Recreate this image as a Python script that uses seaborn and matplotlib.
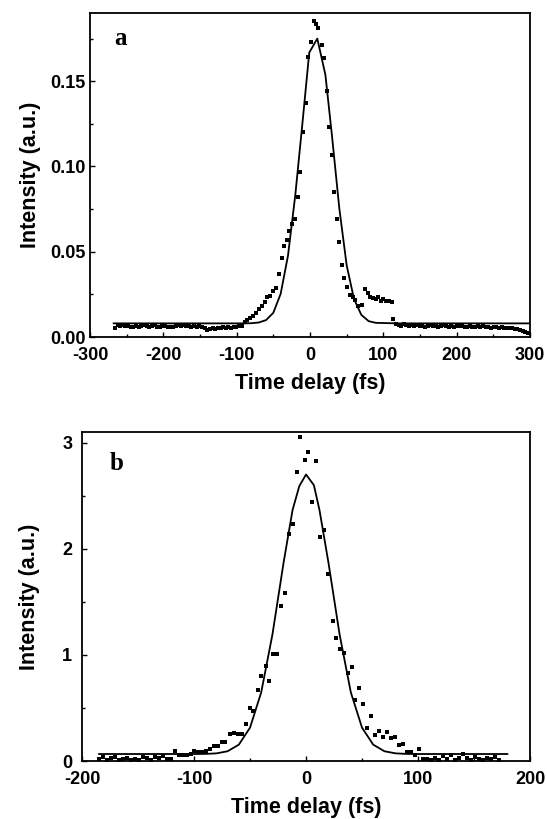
# pulse_autocorrelation.py
# Autocorrelation traces (a, b): measured points + fitted curve

import matplotlib
matplotlib.use("Agg")
import matplotlib.pyplot as plt
from matplotlib.ticker import MultipleLocator
import pandas as pd
import seaborn as sns

# -------------------------
# Data
# -------------------------
# panel a: measured points
a_time = [-266.0, -262.4, -258.8, -255.2, -251.6, -248.0, -244.4, -240.8, -237.2, -233.6,
          -230.0, -226.4, -222.8, -219.2, -215.6, -212.0, -208.4, -204.8, -201.2, -197.6,
          -194.0, -190.4, -186.8, -183.2, -179.6, -176.0, -172.4, -168.8, -165.2, -161.6,
          -158.0, -154.4, -150.8, -147.2, -143.6, -140.0, -136.4, -132.8, -129.2, -125.6,
          -122.0, -118.4, -114.8, -111.2, -107.6, -104.0, -100.4, -96.8,
          -92.7, -88.6, -85.5, -81.8, -77.3, -73.6, -69.5, -65.9, -61.8, -58.2,
          -54.5, -50.0, -46.4, -42.3, -38.6, -35.0, -31.8, -28.2, -24.1, -20.5,
          -16.8, -13.6, -9.1, -5.5, -2.2, 0.9, 5.0, 8.0, 11.4, 15.9,
          19.1, 22.7, 26.4, 30.0, 33.2, 36.4, 40.0, 43.6, 46.8, 50.9,
          54.5, 58.2, 61.8, 65.0, 70.5, 75.0, 78.6, 81.8, 85.5, 89.5,
          93.2, 96.8, 100.0, 103.6, 107.7, 111.4, 113.6,
          117.2, 120.8, 124.4, 128.0, 131.6, 135.2, 138.8, 142.4, 146.0, 149.6,
          153.2, 156.8, 160.4, 164.0, 167.6, 171.2, 174.8, 178.4, 182.0, 185.6,
          189.2, 192.8, 196.4, 200.0, 203.6, 207.2, 210.8, 214.4, 218.0, 221.6,
          225.2, 228.8, 232.4, 236.0, 239.6, 243.2, 246.8, 250.4, 254.0, 257.6,
          261.2, 264.8, 268.4, 272.0, 275.6, 279.2, 282.8, 286.4, 290.0, 293.6, 297.2]
a_signal = [0.0055, 0.0068, 0.0062, 0.0070, 0.0064, 0.0066, 0.0060, 0.0058, 0.0064, 0.0061,
            0.0066, 0.0070, 0.0064, 0.0057, 0.0062, 0.0068, 0.0060, 0.0056, 0.0063, 0.0066,
            0.0059, 0.0061, 0.0057, 0.0064, 0.0068, 0.0062, 0.0070, 0.0066, 0.0063, 0.0060,
            0.0064, 0.0058, 0.0062, 0.0056, 0.0050, 0.0044, 0.0047, 0.0052, 0.0049, 0.0054,
            0.0051, 0.0056, 0.0053, 0.0058, 0.0055, 0.0060, 0.0058, 0.0062,
            0.0067, 0.0090, 0.0100, 0.0114, 0.0124, 0.0143, 0.0163, 0.0182, 0.0208, 0.0233,
            0.0241, 0.0267, 0.0286, 0.0369, 0.0461, 0.0531, 0.0570, 0.0623, 0.0663, 0.0692,
            0.0821, 0.0966, 0.1200, 0.1375, 0.1640, 0.1730, 0.1855, 0.1835, 0.1810, 0.1715,
            0.1635, 0.1440, 0.1230, 0.1066, 0.0850, 0.0692, 0.0557, 0.0424, 0.0345, 0.0292,
            0.0247, 0.0233, 0.0218, 0.0182, 0.0188, 0.0280, 0.0257, 0.0237, 0.0228, 0.0222,
            0.0233, 0.0214, 0.0224, 0.0214, 0.0214, 0.0208, 0.0104,
            0.0078, 0.0072, 0.0066, 0.0074, 0.0069, 0.0064, 0.0070, 0.0066, 0.0072, 0.0063,
            0.0067, 0.0061, 0.0065, 0.0069, 0.0062, 0.0066, 0.0060, 0.0064, 0.0068, 0.0062,
            0.0059, 0.0065, 0.0061, 0.0066, 0.0063, 0.0067, 0.0060, 0.0058, 0.0064, 0.0061,
            0.0057, 0.0063, 0.0059, 0.0062, 0.0056, 0.0060, 0.0055, 0.0058, 0.0061, 0.0054,
            0.0057, 0.0052, 0.0055, 0.0050, 0.0053, 0.0047, 0.0049, 0.0044, 0.0038, 0.0030, 0.0024]

# panel a: fitted curve
a_fit_time = [-268, -120, -90, -80, -70, -60, -50, -40, -30, -20, -10, -1, 10,
              21, 30, 40, 50, 60, 70, 80, 90, 120, 300]
a_fit = [0.0080, 0.0080, 0.0080, 0.0081, 0.0085, 0.0099, 0.0142, 0.0253, 0.0477, 0.0834,
         0.1267, 0.1668, 0.1750, 0.1538, 0.1180, 0.0754, 0.0421, 0.0223, 0.0130, 0.0093,
         0.0083, 0.0080, 0.0080]

# panel b: measured points
b_time = [-185.0, -181.4, -177.8, -174.2, -170.6, -167.0, -163.4, -159.8, -156.2, -152.6,
          -149.0, -145.4, -141.8, -138.2, -134.6, -131.0, -127.4, -124.4, -120.8,
          -117.2, -113.6, -110.0, -106.5, -102.9, -99.6, -96.0, -92.8, -89.2, -85.6,
          -82.1, -78.5, -74.9, -71.9, -68.0, -64.7, -61.1, -57.5, -53.7, -50.4,
          -47.2, -43.2, -40.0, -36.1, -33.1, -29.5, -26.0, -22.4, -18.8, -15.2,
          -11.6, -8.3, -5.1, -1.2, 2.1, 5.6, 9.2, 12.5, 16.1, 20.0,
          23.9, 26.8, 30.4, 34.0, 37.3, 40.9, 44.1, 47.7, 51.3, 54.6,
          58.2, 61.7, 65.3, 68.9, 72.5, 76.1, 79.6, 82.6, 86.2, 90.4,
          93.3, 96.9, 100.5, 104.0, 107.6, 111.2, 114.8, 118.4, 122.0, 125.6,
          129.2, 132.8, 136.4, 140.0, 143.6, 147.2, 150.8, 154.4, 158.0, 161.6,
          165.2, 168.8, 172.4]
b_signal = [0.020, 0.035, 0.010, 0.028, 0.040, 0.005, 0.015, 0.030, 0.008, 0.022,
            0.012, 0.035, 0.025, 0.010, 0.042, 0.030, 0.045, 0.016, 0.016,
            0.097, 0.057, 0.057, 0.057, 0.066, 0.097, 0.082, 0.088, 0.097, 0.113,
            0.141, 0.145, 0.176, 0.176, 0.255, 0.260, 0.252, 0.252, 0.350, 0.503,
            0.475, 0.670, 0.800, 0.900, 0.755, 1.006, 1.006, 1.465, 1.580, 2.140,
            2.230, 2.720, 3.050, 2.840, 2.910, 2.440, 2.830, 2.110, 2.180, 1.760,
            1.320, 1.160, 1.060, 1.016, 0.827, 0.890, 0.575, 0.690, 0.540, 0.314,
            0.425, 0.245, 0.283, 0.230, 0.277, 0.220, 0.230, 0.150, 0.160, 0.088,
            0.088, 0.057, 0.113, 0.016, 0.016, 0.010, 0.030, 0.005, 0.047, 0.020,
            0.057, 0.012, 0.030, 0.066, 0.025, 0.008, 0.035, 0.015, 0.005, 0.030,
            0.020, 0.040, 0.010]

# panel b: fitted curve
b_fit_time = [-185, -100, -90, -80, -70, -60, -50, -40, -30, -20, -12, -6, 0,
              7, 12, 20, 30, 40, 50, 60, 70, 80, 90, 100, 180]
b_fit = [0.066, 0.066, 0.067, 0.072, 0.092, 0.154, 0.314, 0.647, 1.191, 1.871, 2.366,
         2.590, 2.700, 2.600, 2.366, 1.871, 1.191, 0.647, 0.314, 0.154, 0.092, 0.072,
         0.067, 0.066, 0.066]

# -------------------------
# Style
# -------------------------
sns.set_style("ticks")
plt.rcParams['font.family'] = ['Liberation Sans', 'DejaVu Sans']
plt.rcParams['font.weight'] = 'bold'
plt.rcParams['axes.unicode_minus'] = False
plt.rcParams['text.color'] = 'black'
plt.rcParams['axes.labelcolor'] = 'black'

fig = plt.figure(figsize=(5.47, 8.19), dpi=100)
ax_a = fig.add_axes([0.1645, 0.5885, 0.8044, 0.3956])
ax_b = fig.add_axes([0.1499, 0.0708, 0.8191, 0.4017])

panels = [
    (ax_a, a_time, a_signal, a_fit_time, a_fit, "a"),
    (ax_b, b_time, b_signal, b_fit_time, b_fit, "b"),
]

for ax, t, s, ft, f, letter in panels:
    pts = pd.DataFrame({"t": t, "s": s})
    fit = pd.DataFrame({"t": ft, "s": f})
    sns.scatterplot(data=pts, x="t", y="s", ax=ax, marker="s", s=9,
                    color="black", linewidth=0, zorder=3)
    sns.lineplot(data=fit, x="t", y="s", ax=ax, color="black", lw=1.3,
                 sort=False, estimator=None, zorder=2)
    ax.set_xlabel("Time delay (fs)", fontsize=15.5, fontweight="bold",
                  labelpad=7, color="black")
    ax.set_ylabel("Intensity (a.u.)", fontsize=15.5, fontweight="bold",
                  color="black")
    for sp in ax.spines.values():
        sp.set_linewidth(1.3)
        sp.set_color("black")
    ax.tick_params(which="both", direction="in", width=1.0, colors="black",
                   labelsize=13)
    ax.tick_params(which="major", length=3.5)
    ax.tick_params(which="minor", length=2.5)

# panel a axes
ax_a.set_xlim(-300, 300)
ax_a.set_ylim(0, 0.19)
ax_a.xaxis.set_major_locator(MultipleLocator(100))
ax_a.xaxis.set_minor_locator(MultipleLocator(50))
ax_a.yaxis.set_major_locator(MultipleLocator(0.05))
ax_a.yaxis.set_minor_locator(MultipleLocator(0.025))
ax_a.yaxis.set_major_formatter(plt.FormatStrFormatter("%.2f"))
ax_a.tick_params(axis="x", pad=7)
ax_a.tick_params(axis="y", pad=3)
ax_a.yaxis.set_label_coords(-0.112, 0.5)
ax_a.text(-258, 0.175, "a", family=["Liberation Serif"], fontweight="bold",
          fontsize=18, ha="center", va="center", color="black")

# panel b axes
ax_b.set_xlim(-200, 200)
ax_b.set_ylim(0, 3.1)
ax_b.xaxis.set_major_locator(MultipleLocator(100))
ax_b.xaxis.set_minor_locator(MultipleLocator(50))
ax_b.yaxis.set_major_locator(MultipleLocator(1))
ax_b.yaxis.set_minor_locator(MultipleLocator(0.5))
ax_b.tick_params(axis="x", pad=7)
ax_b.tick_params(axis="y", pad=7)
ax_b.yaxis.set_label_coords(-0.093, 0.5)
ax_b.text(-169, 2.8, "b", family=["Liberation Serif"], fontweight="bold",
          fontsize=18, ha="center", va="center", color="black")

for ax in (ax_a, ax_b):
    for lab in ax.get_xticklabels() + ax.get_yticklabels():
        lab.set_fontweight("bold")

fig.savefig("out.png", dpi=100)
print("saved out.png")
